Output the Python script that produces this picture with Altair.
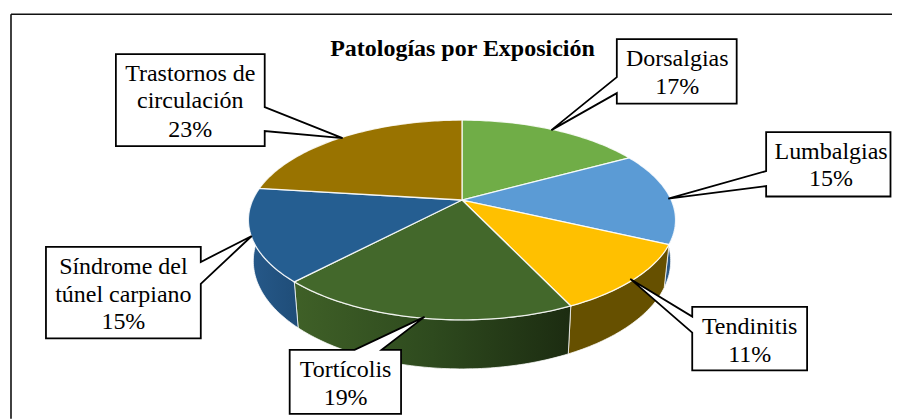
import math
import altair as alt
import pandas as pd

NAMES = ["Dorsalgias", "Lumbalgias", "Tendinitis", "Tortícolis", "Síndrome del túnel carpiano", "Trastornos de circulación"]
SHARES = [17, 15, 11, 19, 15, 23]
LABEL_LINES = [["Dorsalgias"], ["Lumbalgias"], ["Tendinitis"], ["Tortícolis"], ["Síndrome del", "túnel carpiano"], ["Trastornos de", "circulación"]]
TOP_COLORS = ["#70AD47", "#5B9BD5", "#FFC000", "#43682B", "#255E91", "#997300"]
WALL_STOPS = [None, ["#2F5F8F", "#234a70"], ["#665000", "#665000"], ["#3F6027", "#2E4A1E", "#1C2C11"], ["#26598A", "#1F4D78"], None]
TITLE = "Patologías por Exposición"

CX, CY, A, B, K = 462.5, 200.0, 209.5, 96.0, 0.2
FLOOR_CY, FLOOR_SX, FLOOR_SY = 239.5, 0.977, 1.08
OX, OY = 8, 8


def top_pt(deg):
    r = math.radians(deg)
    u, v = math.sin(r), math.cos(r)
    d = 1 + K * v
    return A * u / d, -B * v / d


def arc(a0, a1):
    n = max(2, int(abs(a1 - a0)) + 1)
    return [top_pt(a0 + (a1 - a0) * i / n) for i in range(n + 1)]


def feature(ring):
    ring = [[round(x, 2), round(y, 2)] for x, y in ring]
    ring.append(ring[0])
    return {"type": "Feature", "properties": {}, "geometry": {"type": "Polygon", "coordinates": [ring]}}


PROJ = dict(type="identity", scale=1, translate=[-OX, -OY])


def shape(ring, **kw):
    return alt.Chart(alt.Data(values=[feature(ring)])).mark_geoshape(**kw).project(**PROJ)


layers = []
angles = []
acc = 0
for s in SHARES:
    angles.append((acc * 3.6, (acc + s) * 3.6))
    acc += s

# side walls
for (a0, a1), stops in zip(angles, WALL_STOPS):
    if stops is None:
        continue
    lo, hi = max(a0, 90), min(a1, 270)
    pts = arc(lo, hi)
    upper = [(CX + x, CY + y) for x, y in pts]
    lower = [(CX + x * FLOOR_SX, FLOOR_CY + y * FLOOR_SY) for x, y in pts]
    grad = alt.LinearGradient(
        gradient="linear", x1=0, x2=1, y1=0, y2=0,
        stops=[alt.GradientStop(offset=i / (len(stops) - 1), color=c) for i, c in enumerate(stops)],
    )
    layers.append(shape(upper + lower[::-1], fill=grad, stroke="#ffffff", strokeWidth=1, strokeOpacity=0.75))

# top face
for (a0, a1), col in zip(angles, TOP_COLORS):
    ring = [(CX, CY)] + [(CX + x, CY + y) for x, y in arc(a0, a1)]
    layers.append(shape(ring, fill=col, stroke="#ffffff", strokeWidth=1.3, strokeOpacity=0.85, strokeJoin="round"))

# callouts: box (l, t, r, b), pointer base points, tip
CALLOUTS = [
    ((617.5, 39, 737.5, 103.5), "left", (77, 93), (552, 130)),
    ((767, 132, 891.5, 196.5), "left", (171, 186), (669, 198.5)),
    ((693, 307, 808, 370.5), "left", (316.7, 332.7), (631, 279)),
    ((290, 350, 401.5, 414), "top", (355, 382), (425, 317)),
    ((46, 247, 201, 338.5), "right", (262, 284), (252, 236)),
    ((116, 54, 265, 146), "right", (107, 131), (343, 138)),
]
for (l, t, r, b), side, (p0, p1), tip in CALLOUTS:
    if side == "left":
        ring = [(l, t), (r, t), (r, b), (l, b), (l, p1), tip, (l, p0)]
    elif side == "right":
        ring = [(l, t), (r, t), (r, p0), tip, (r, p1), (r, b), (l, b)]
    else:
        ring = [(l, t), (p0, t), tip, (p1, t), (r, t), (r, b), (l, b)]
    layers.append(shape(ring, fill="#ffffff", stroke="#000000", strokeWidth=1.8, strokeJoin="miter"))

# frame
frame = pd.DataFrame({"x": [11 - OX, 11 - OX], "y": [14 - OY, 14 - OY], "x2": [11 - OX, 893 - OX], "y2": [419 - OY, 14 - OY]})
layers.append(alt.Chart(frame).mark_rule(color="#111111", strokeWidth=1.6).encode(
    x=alt.X("x:Q", scale=None), y=alt.Y("y:Q", scale=None), x2="x2:Q", y2="y2:Q"))

# text
TEXT_CX = [678, 832, 750.5, 346, 123.5, 190.5]
BASELINES = [[66, 94], [159, 186], [334, 362], [377, 405], [274, 302, 329], [81, 108, 137]]
rows = []
for cx, lines, share, ys in zip(TEXT_CX, LABEL_LINES, SHARES, BASELINES):
    for line, y in zip(list(lines) + [f"{share}%"], ys):
        rows.append({"t": line, "x": cx - OX, "y": y - OY})
layers.append(alt.Chart(pd.DataFrame(rows)).mark_text(
    font="Liberation Serif", fontSize=24, color="#000000", align="center", baseline="alphabetic"
).encode(x=alt.X("x:Q", scale=None), y=alt.Y("y:Q", scale=None), text="t:N"))

title_df = pd.DataFrame({"t": [TITLE], "x": [463 - OX], "y": [56 - OY]})
layers.append(alt.Chart(title_df).mark_text(
    font="Liberation Serif", fontSize=24, fontWeight="bold", color="#000000", align="center", baseline="alphabetic"
).encode(x=alt.X("x:Q", scale=None), y=alt.Y("y:Q", scale=None), text="t:N"))

chart = alt.layer(*layers).properties(width=885, height=411, padding=0, background="#ffffff").configure_view(stroke=None)
chart.save("out.html", embed_options={"renderer": "svg", "actions": False})
